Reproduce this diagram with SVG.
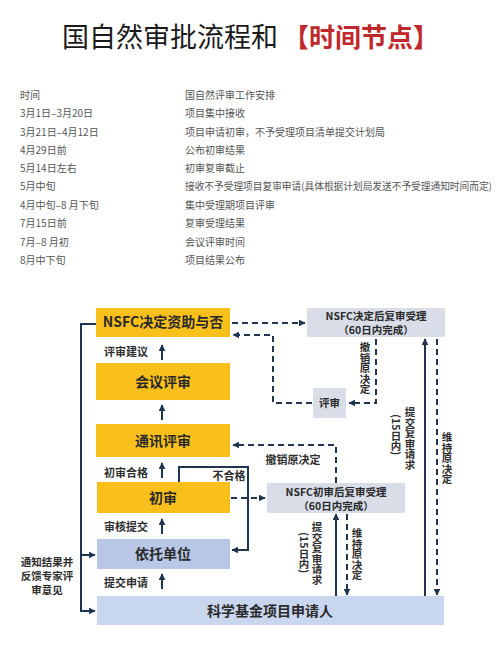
<svg xmlns="http://www.w3.org/2000/svg" width="500" height="653" viewBox="0 0 500 653">
<style>
text{font-family:"Noto Sans CJK SC","Noto Sans",sans-serif;}
.tbl{font-size:10px;fill:#555;}
.box{font-size:14px;font-weight:bold;fill:#2a2a2a;text-anchor:middle;}
.sbox{font-size:10.5px;font-weight:bold;fill:#2a2a2a;text-anchor:middle;}
.lbl{font-size:11px;font-weight:bold;fill:#2e2e2e;}
.vt{font-size:10.5px;font-weight:bold;fill:#2e2e2e;writing-mode:vertical-rl;}
.yel{fill:#f9c01b;}
.g{fill:#d8dde8;}
.ln{fill:none;stroke:#1e3450;stroke-width:2;}
.dl{fill:none;stroke:#1e3450;stroke-width:2;stroke-dasharray:6 4;}
</style>
<defs>
<marker id="ah" viewBox="0 0 10 10" refX="9" refY="5" markerWidth="7" markerHeight="7" markerUnits="userSpaceOnUse" orient="auto">
<path d="M0,0 L10,5 L0,10 z" fill="#1e3450"/>
</marker>
</defs>
<rect width="500" height="653" fill="#ffffff"/>

<g id="title">
<text x="62" y="47" font-size="27" fill="#1a1a1a">国自然审批流程和</text>
<text x="283" y="47" font-size="26" font-weight="bold" fill="#c1282c">【时间节点】</text>
</g>

<g id="table">
<text class="tbl" x="20" y="98.5">时间</text><text class="tbl" x="185" y="98.5">国自然评审工作安排</text>
<text class="tbl" x="20" y="116.5">3月1日–3月20日</text><text class="tbl" x="185" y="116.5">项目集中接收</text>
<text class="tbl" x="20" y="135.5">3月21日–4月12日</text><text class="tbl" x="185" y="135.5">项目申请初审，不予受理项目清单提交计划局</text>
<text class="tbl" x="20" y="153.5">4月29日前</text><text class="tbl" x="185" y="153.5">公布初审结果</text>
<text class="tbl" x="20" y="171.5">5月14日左右</text><text class="tbl" x="185" y="171.5">初审复审截止</text>
<text class="tbl" x="20" y="189.5">5月中旬</text><text class="tbl" x="185" y="189.5" style="font-size:9.7px">接收不予受理项目复审申请(具体根据计划局发送不予受理通知时间而定)</text>
<text class="tbl" x="20" y="208.5">4月中旬–8 月下旬</text><text class="tbl" x="185" y="208.5">集中受理期项目评审</text>
<text class="tbl" x="20" y="226.5">7月15日前</text><text class="tbl" x="185" y="226.5">复审受理结果</text>
<text class="tbl" x="20" y="245.5">7月–8 月初</text><text class="tbl" x="185" y="245.5">会议评审时间</text>
<text class="tbl" x="20" y="263.5">8月中下旬</text><text class="tbl" x="185" y="263.5">项目结果公布</text>
</g>

<g id="n-nsfc-decide"><rect class="yel" x="96" y="308" width="134" height="29"/><text class="box" x="163" y="327">NSFC决定资助与否</text></g>
<g id="n-meeting"><rect class="yel" x="96" y="363" width="134" height="37"/><text class="box" x="163" y="386.5">会议评审</text></g>
<g id="n-comm"><rect class="yel" x="96" y="424" width="134" height="33"/><text class="box" x="163" y="445.5">通讯评审</text></g>
<g id="n-initial"><rect class="yel" x="97" y="482" width="133" height="31"/><text class="box" x="163" y="502.5">初审</text></g>
<g id="n-unit"><rect fill="#b7c7e5" x="97" y="539" width="133" height="30"/><text class="box" x="163" y="559">依托单位</text></g>
<g id="n-applicant"><rect fill="#c8d6ee" x="97" y="596" width="347" height="29"/><text class="box" x="270" y="615.5">科学基金项目申请人</text></g>
<g id="n-review-after-decide"><rect class="g" x="307" y="308" width="138" height="29"/><text class="sbox" x="376" y="320">NSFC决定后复审受理</text><text class="sbox" x="376" y="334">（60日内完成）</text></g>
<g id="n-review"><rect class="g" x="313" y="388" width="33" height="30"/><text class="sbox" x="329.5" y="407">评审</text></g>
<g id="n-review-after-initial"><rect class="g" x="267" y="483" width="138" height="30"/><text class="sbox" x="336" y="496">NSFC初审后复审受理</text><text class="sbox" x="336" y="509.5">（60日内完成）</text></g>

<g id="connectors">
<line class="ln" x1="162" y1="360" x2="162" y2="345" marker-end="url(#ah)"/>
<line class="ln" x1="162" y1="420" x2="162" y2="405" marker-end="url(#ah)"/>
<line class="ln" x1="162" y1="478" x2="162" y2="463" marker-end="url(#ah)"/>
<line class="ln" x1="162" y1="534" x2="162" y2="519" marker-end="url(#ah)"/>
<line class="ln" x1="162" y1="589" x2="162" y2="574" marker-end="url(#ah)"/>
<path class="ln" d="M96,324 H81 V611 H95" marker-end="url(#ah)"/>
<path class="ln" d="M81,555 H95" marker-end="url(#ah)"/>
<path class="ln" d="M179,482 V467 H248 V550 H232" marker-end="url(#ah)"/>
<path class="dl" d="M232,323 H305" marker-end="url(#ah)"/>
<path class="dl" d="M312,403 H273 V335 H233" marker-end="url(#ah)"/>
<path class="dl" d="M376,339 V403 H349" marker-end="url(#ah)"/>
<path class="dl" d="M336,483 V445 H233" marker-end="url(#ah)"/>
<path class="dl" d="M231,498 H265" marker-end="url(#ah)"/>
<line class="ln" x1="425" y1="596" x2="425" y2="339" marker-end="url(#ah)"/>
<line class="dl" x1="437" y1="339" x2="437" y2="595" marker-end="url(#ah)"/>
<line class="ln" x1="336" y1="596" x2="336" y2="514" marker-end="url(#ah)"/>
<line class="dl" x1="347" y1="514" x2="347" y2="595" marker-end="url(#ah)"/>

<text class="lbl" x="104" y="356">评审建议</text>
<text class="lbl" x="104" y="477">初审合格</text>
<text class="lbl" x="104" y="531">审核提交</text>
<text class="lbl" x="104" y="587">提交申请</text>
<text class="lbl" x="229" y="480" text-anchor="middle">不合格</text>
<text class="lbl" x="293" y="464" text-anchor="middle">撤销原决定</text>
<text class="lbl" x="47" y="566" text-anchor="middle" style="font-size:10.5px">通知结果并</text>
<text class="lbl" x="47" y="580" text-anchor="middle" style="font-size:10.5px">反馈专家评</text>
<text class="lbl" x="47" y="594" text-anchor="middle" style="font-size:10.5px">审意见</text>
<text class="vt" x="365" y="342">撤销原决定</text>
<text class="vt" x="410" y="407">提交复审请求</text>
<text class="vt" x="396" y="414">(15日内)</text>
<text class="vt" x="447" y="432">维持原决定</text>
<text class="vt" x="317" y="522">提交复审请求</text>
<text class="vt" x="304" y="532">(15日内)</text>
<text class="vt" x="357" y="528">维持原决定</text>
</g>
</svg>
